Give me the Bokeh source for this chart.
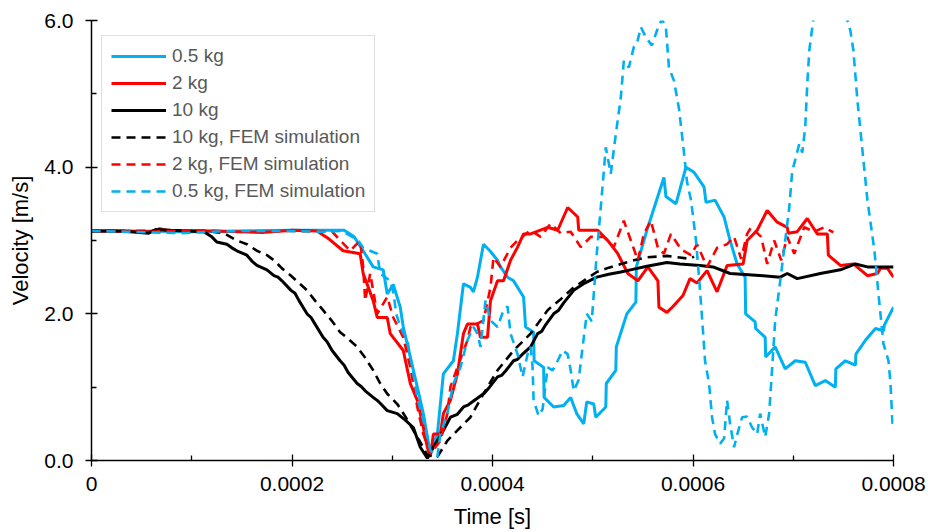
import numpy as np
from bokeh.plotting import figure
from bokeh.models import (FixedTicker, NumeralTickFormatter, Legend, LegendItem,
                          Range1d)
from bokeh.embed import file_html
from bokeh.resources import INLINE

# Time values are given in microseconds and converted to seconds below.
# Velocities in m/s.

# 0.5 kg, measured
t_05 = [0, 50, 100, 150, 200, 240, 252, 262, 271, 281, 291, 295, 301, 308, 311,
        318, 325, 331, 338, 345, 351, 361, 365, 371, 378, 381, 385, 391, 398, 405,
        408, 415, 421, 431, 433, 441, 441.5, 451, 451.5, 461, 471, 478, 484, 491,
        494, 501, 503, 513, 513.5, 523, 523.5, 534, 543, 543.5, 554, 571, 573,
        583, 593, 601, 611, 613, 622, 631, 637, 644, 652, 652.5, 662, 662.5, 672,
        672.5, 682, 692, 702, 712, 722, 732, 742, 742.5, 752, 762, 762.5, 772,
        782, 790, 791, 800]
v_05 = [3.13, 3.13, 3.12, 3.13, 3.14, 3.14, 3.14, 3.05, 2.86, 2.64, 2.60, 2.27,
        2.40, 2.09, 1.82, 1.41, 1.00, 0.64, 0.09, 0.36, 1.18, 1.36, 1.73, 2.41,
        2.36, 2.30, 2.50, 2.95, 2.85, 2.73, 2.64, 2.50, 2.45, 2.23, 1.82, 1.75,
        1.36, 1.27, 0.86, 0.73, 0.75, 0.86, 0.64, 0.50, 0.80, 0.77, 0.59, 0.73,
        1.05, 1.23, 1.55, 2.00, 2.16, 2.64, 3.14, 3.86, 3.60, 3.50, 4.00, 3.93,
        3.73, 3.52, 3.55, 3.32, 3.00, 2.68, 2.50, 2.00, 1.89, 1.80, 1.68, 1.41,
        1.55, 1.25, 1.36, 1.34, 1.02, 1.09, 1.00, 1.25, 1.36, 1.30, 1.45, 1.64,
        1.80, 1.77, 1.85, 2.09]

# 2 kg, measured
t_2 = [0, 60, 68, 75, 120, 170, 200, 225, 237, 251, 268, 271, 281, 285, 295,
       298, 311, 318, 325, 331, 335, 338, 341, 348, 351, 358, 365, 371, 375, 385,
       388, 395, 398, 405, 411, 418, 425, 431, 438, 455, 465, 475, 485, 486, 505,
       515, 525, 535, 545, 555, 565, 566, 574, 580, 590, 597, 604, 614, 624, 634,
       650, 654, 664, 674, 684, 694, 695, 704, 714, 724, 734, 735, 747, 760, 774,
       784, 787, 794, 800]
v_2 = [3.13, 3.12, 3.16, 3.14, 3.13, 3.11, 3.14, 3.13, 3.02, 2.86, 2.82, 2.55,
       2.18, 1.95, 1.95, 1.73, 1.50, 1.05, 0.82, 0.45, 0.18, 0.05, 0.36, 0.36,
       0.64, 0.82, 1.18, 1.73, 1.86, 1.86, 1.68, 1.68, 2.18, 2.45, 2.45, 2.73,
       2.91, 3.09, 3.09, 3.18, 3.14, 3.45, 3.32, 3.14, 3.14, 3.00, 2.82, 2.55,
       2.45, 2.64, 2.45, 2.09, 2.02, 2.10, 2.25, 2.48, 2.42, 2.59, 2.30, 2.66,
       2.68, 3.00, 3.14, 3.41, 3.25, 3.18, 3.10, 3.12, 3.30, 3.09, 3.09, 2.80,
       2.66, 2.68, 2.52, 2.55, 2.62, 2.62, 2.50]

# 10 kg, measured
t_10 = [0, 29, 57, 64, 79, 112, 120, 125, 135, 140, 145, 155, 160, 165, 175,
        182, 186, 190, 199, 203, 207, 215, 219, 223, 231, 235, 240, 248, 252,
        256, 265, 269, 273, 281, 285, 288, 295, 305, 313, 321, 328, 335, 341,
        351, 358, 365, 371, 376, 380, 388, 392, 397, 405, 409, 413, 421, 425,
        430, 438, 445, 449, 453, 461, 466, 471, 481, 492, 504, 516, 528, 541,
        554, 574, 587, 607, 620, 637, 670, 687, 694, 704, 727, 747, 762, 774,
        787, 800]
v_10 = [3.13, 3.13, 3.10, 3.15, 3.14, 3.12, 3.05, 2.98, 2.95, 2.90, 2.86, 2.80,
        2.72, 2.66, 2.60, 2.52, 2.50, 2.45, 2.32, 2.28, 2.18, 2.00, 1.95, 1.86,
        1.68, 1.62, 1.50, 1.36, 1.30, 1.20, 1.05, 1.01, 0.95, 0.86, 0.82, 0.78,
        0.68, 0.64, 0.55, 0.45, 0.18, 0.03, 0.18, 0.41, 0.59, 0.63, 0.73, 0.76,
        0.80, 0.88, 0.92, 1.00, 1.14, 1.16, 1.22, 1.36, 1.38, 1.45, 1.55, 1.73,
        1.76, 1.85, 2.00, 2.05, 2.15, 2.32, 2.42, 2.50, 2.54, 2.57, 2.61, 2.65,
        2.70, 2.68, 2.66, 2.64, 2.55, 2.52, 2.50, 2.55, 2.48, 2.55, 2.60, 2.68,
        2.64, 2.64, 2.64]

# 10 kg, FEM simulation
t_10f = [0, 50, 112, 132, 145, 155, 165, 175, 182, 190, 199, 207, 215, 223, 231,
         240, 248, 256, 265, 273, 281, 288, 295, 305, 313, 321, 328, 335, 345,
         355, 365, 378, 391, 405, 421, 438, 455, 468, 481, 493, 504, 516, 528,
         541, 554, 574, 597, 601]
v_10f = [3.13, 3.13, 3.13, 3.10, 3.00, 2.95, 2.86, 2.80, 2.73, 2.62, 2.52, 2.42,
         2.32, 2.18, 2.05, 1.90, 1.75, 1.66, 1.55, 1.40, 1.23, 1.05, 0.91, 0.77,
         0.60, 0.41, 0.25, 0.07, 0.05, 0.27, 0.41, 0.59, 0.91, 1.23, 1.50, 1.73,
         2.05, 2.20, 2.36, 2.47, 2.57, 2.63, 2.68, 2.73, 2.77, 2.79, 2.75, 2.78]

# 2 kg, FEM simulation
t_2f = [0, 60, 100, 150, 200, 240, 258, 268, 271, 273, 278, 285, 295, 301, 311,
        318, 325, 331, 338, 348, 355, 358, 365, 375, 378, 391, 398, 401, 408, 418,
        425, 438, 448, 458, 468, 478, 488, 498, 511, 521, 531, 538, 545, 551, 558,
        565, 571, 578, 588, 598, 604, 614, 624, 634, 641, 648, 654, 658, 668, 674,
        681, 688, 694, 701, 711, 721, 731, 740]
v_2f = [3.13, 3.12, 3.14, 3.12, 3.13, 3.12, 2.86, 3.00, 2.64, 2.18, 2.55, 2.00,
        2.23, 1.95, 1.68, 1.27, 0.73, 0.36, 0.09, 0.27, 0.64, 1.00, 1.27, 1.64,
        1.82, 1.91, 2.36, 2.77, 2.64, 2.90, 3.00, 3.14, 3.05, 3.23, 3.10, 3.12,
        2.91, 3.05, 3.05, 2.91, 3.27, 3.00, 2.73, 3.09, 3.27, 2.90, 2.82, 3.09,
        2.88, 2.80, 2.95, 2.64, 2.90, 2.95, 3.05, 2.75, 3.09, 3.18, 3.05, 2.68,
        3.00, 2.73, 3.05, 2.82, 3.18, 3.12, 3.18, 3.11]

# 0.5 kg, FEM simulation
t_05f = [0, 30, 60, 90, 120, 150, 190, 230, 250, 266, 271, 285, 288, 298, 301,
         304, 308, 315, 320, 325, 331, 338, 345, 348, 355, 361, 368, 375, 381,
         385, 388, 393, 398, 405, 411, 415, 418, 425, 430, 435, 438, 440, 441,
         446, 450, 455, 460, 465, 470, 475, 478, 481, 486, 489, 494, 499, 504,
         508, 513, 518, 523, 528, 531, 536, 541, 544, 548, 553, 559, 564, 569,
         573, 576, 581, 586, 591, 594, 598, 603, 606, 609, 612, 616, 619, 622,
         627, 631, 634, 637, 641, 644, 649, 654, 659, 664, 667, 672, 676, 679,
         682, 687, 692, 696, 699, 702, 706, 709, 712, 714, 716, 719, 722, 729,
         737, 745, 751, 754, 757, 760, 764, 769, 774, 781, 785, 790, 795, 797,
         799]
v_05f = [3.13, 3.12, 3.11, 3.10, 3.12, 3.13, 3.13, 3.12, 3.13, 3.00, 2.90, 2.82,
         2.55, 2.45, 2.30, 2.00, 1.82, 1.64, 1.27, 0.86, 0.55, 0.14, 0.05, 0.36,
         0.64, 1.05, 1.27, 1.64, 1.82, 1.73, 1.55, 2.18, 1.91, 1.82, 2.05, 2.10,
         1.73, 1.45, 1.14, 1.45, 1.55, 1.27, 0.82, 0.61, 0.70, 1.27, 1.23, 1.36,
         1.50, 1.45, 1.23, 0.95, 1.10, 1.45, 2.00, 1.90, 2.82, 3.45, 4.27, 3.91,
         4.45, 4.95, 5.45, 5.36, 5.64, 5.68, 5.91, 5.77, 5.66, 5.86, 6.02, 5.90,
         5.36, 5.18, 4.80, 4.20, 3.80, 3.55, 3.00, 2.50, 1.95, 1.36, 1.05, 0.59,
         0.36, 0.23, 0.30, 0.82, 0.50, 0.18, 0.35, 0.59, 0.60, 0.45, 0.36, 0.64,
         0.32, 0.64, 1.27, 1.91, 2.45, 3.00, 3.45, 3.95, 4.10, 4.32, 4.20, 4.55,
         5.14, 5.59, 5.91, 6.20, 6.50, 6.60, 6.40, 6.10, 6.00, 5.86, 5.59, 4.91,
         4.23, 3.55, 2.86, 2.27, 1.59, 1.36, 1.05, 0.50]

x_ticks = [0, 0.0002, 0.0004, 0.0006, 0.0008]
x_minor = [0.0001, 0.0003, 0.0005, 0.0007]
y_ticks = [0, 2, 4, 6]
y_minor = [1, 3, 5]

BLUE = "#00B0F0"
RED = "#FF0000"
BLACK = "#000000"
FONT = "Liberation Sans"


def sec(us):
    return np.asarray(us, dtype=float) * 1e-6


p = figure(width=928, height=532, output_backend="svg", toolbar_location=None,
           x_range=Range1d(0, 0.0008), y_range=Range1d(0, 6),
           min_border_left=91, min_border_right=35, min_border_top=20,
           min_border_bottom=72)
p.outline_line_color = None
p.xgrid.visible = False
p.ygrid.visible = False
p.background_fill_color = "white"
p.border_fill_color = "white"

solid_w = 3
dash_w = 2.6
dash = "9 6"

r05 = p.line(sec(t_05), v_05, color=BLUE, line_width=solid_w)
r2 = p.line(sec(t_2), v_2, color=RED, line_width=solid_w)
r10 = p.line(sec(t_10), v_10, color=BLACK, line_width=solid_w)
r10f = p.line(sec(t_10f), v_10f, color=BLACK, line_width=dash_w, line_dash=dash)
r2f = p.line(sec(t_2f), v_2f, color=RED, line_width=dash_w, line_dash=dash)
r05f = p.line(sec(t_05f), v_05f, color=BLUE, line_width=dash_w, line_dash=dash)

# axes
for ax in (p.xaxis[0], p.yaxis[0]):
    ax.axis_line_color = BLACK
    ax.axis_line_width = 1.5
    ax.major_tick_line_color = BLACK
    ax.minor_tick_line_color = BLACK
    ax.major_tick_line_width = 1.3
    ax.minor_tick_line_width = 1.3
    ax.major_tick_in = 6
    ax.major_tick_out = 6
    ax.minor_tick_in = 5
    ax.minor_tick_out = 0
    ax.major_label_text_font = FONT
    ax.major_label_text_font_size = "21px"
    ax.major_label_text_color = "#000000"
    ax.axis_label_text_font = FONT
    ax.axis_label_text_font_size = "22px"
    ax.axis_label_text_font_style = "normal"
    ax.axis_label_text_color = "#000000"

p.xaxis.ticker = FixedTicker(ticks=x_ticks, minor_ticks=x_minor)
p.xaxis.formatter = NumeralTickFormatter(format="0.[0000]")
p.xaxis.axis_label = "Time [s]"
p.xaxis.major_label_standoff = 10
p.xaxis.axis_label_standoff = 10

p.yaxis.ticker = FixedTicker(ticks=y_ticks, minor_ticks=y_minor)
p.yaxis.formatter = NumeralTickFormatter(format="0.0")
p.yaxis.axis_label = "Velocity [m/s]"
p.yaxis.major_label_standoff = 12
p.yaxis.axis_label_standoff = 8

legend = Legend(items=[
    LegendItem(label="0.5 kg", renderers=[r05]),
    LegendItem(label="2 kg", renderers=[r2]),
    LegendItem(label="10 kg", renderers=[r10]),
    LegendItem(label="10 kg, FEM simulation", renderers=[r10f]),
    LegendItem(label="2 kg, FEM simulation", renderers=[r2f]),
    LegendItem(label="0.5 kg, FEM simulation", renderers=[r05f]),
], location=(10, 248))
legend.label_text_font = FONT
legend.label_text_font_size = "19px"
legend.label_text_color = "#595959"
legend.glyph_width = 55
legend.glyph_height = 22
legend.label_height = 22
legend.label_standoff = 6
legend.spacing = 5
legend.padding = 9
legend.margin = 0
legend.border_line_color = "#BFBFBF"
legend.border_line_width = 1.2
legend.background_fill_color = "white"
legend.background_fill_alpha = 1.0
p.add_layout(legend, "center")

open("out.html", "w").write(file_html(p, INLINE))
